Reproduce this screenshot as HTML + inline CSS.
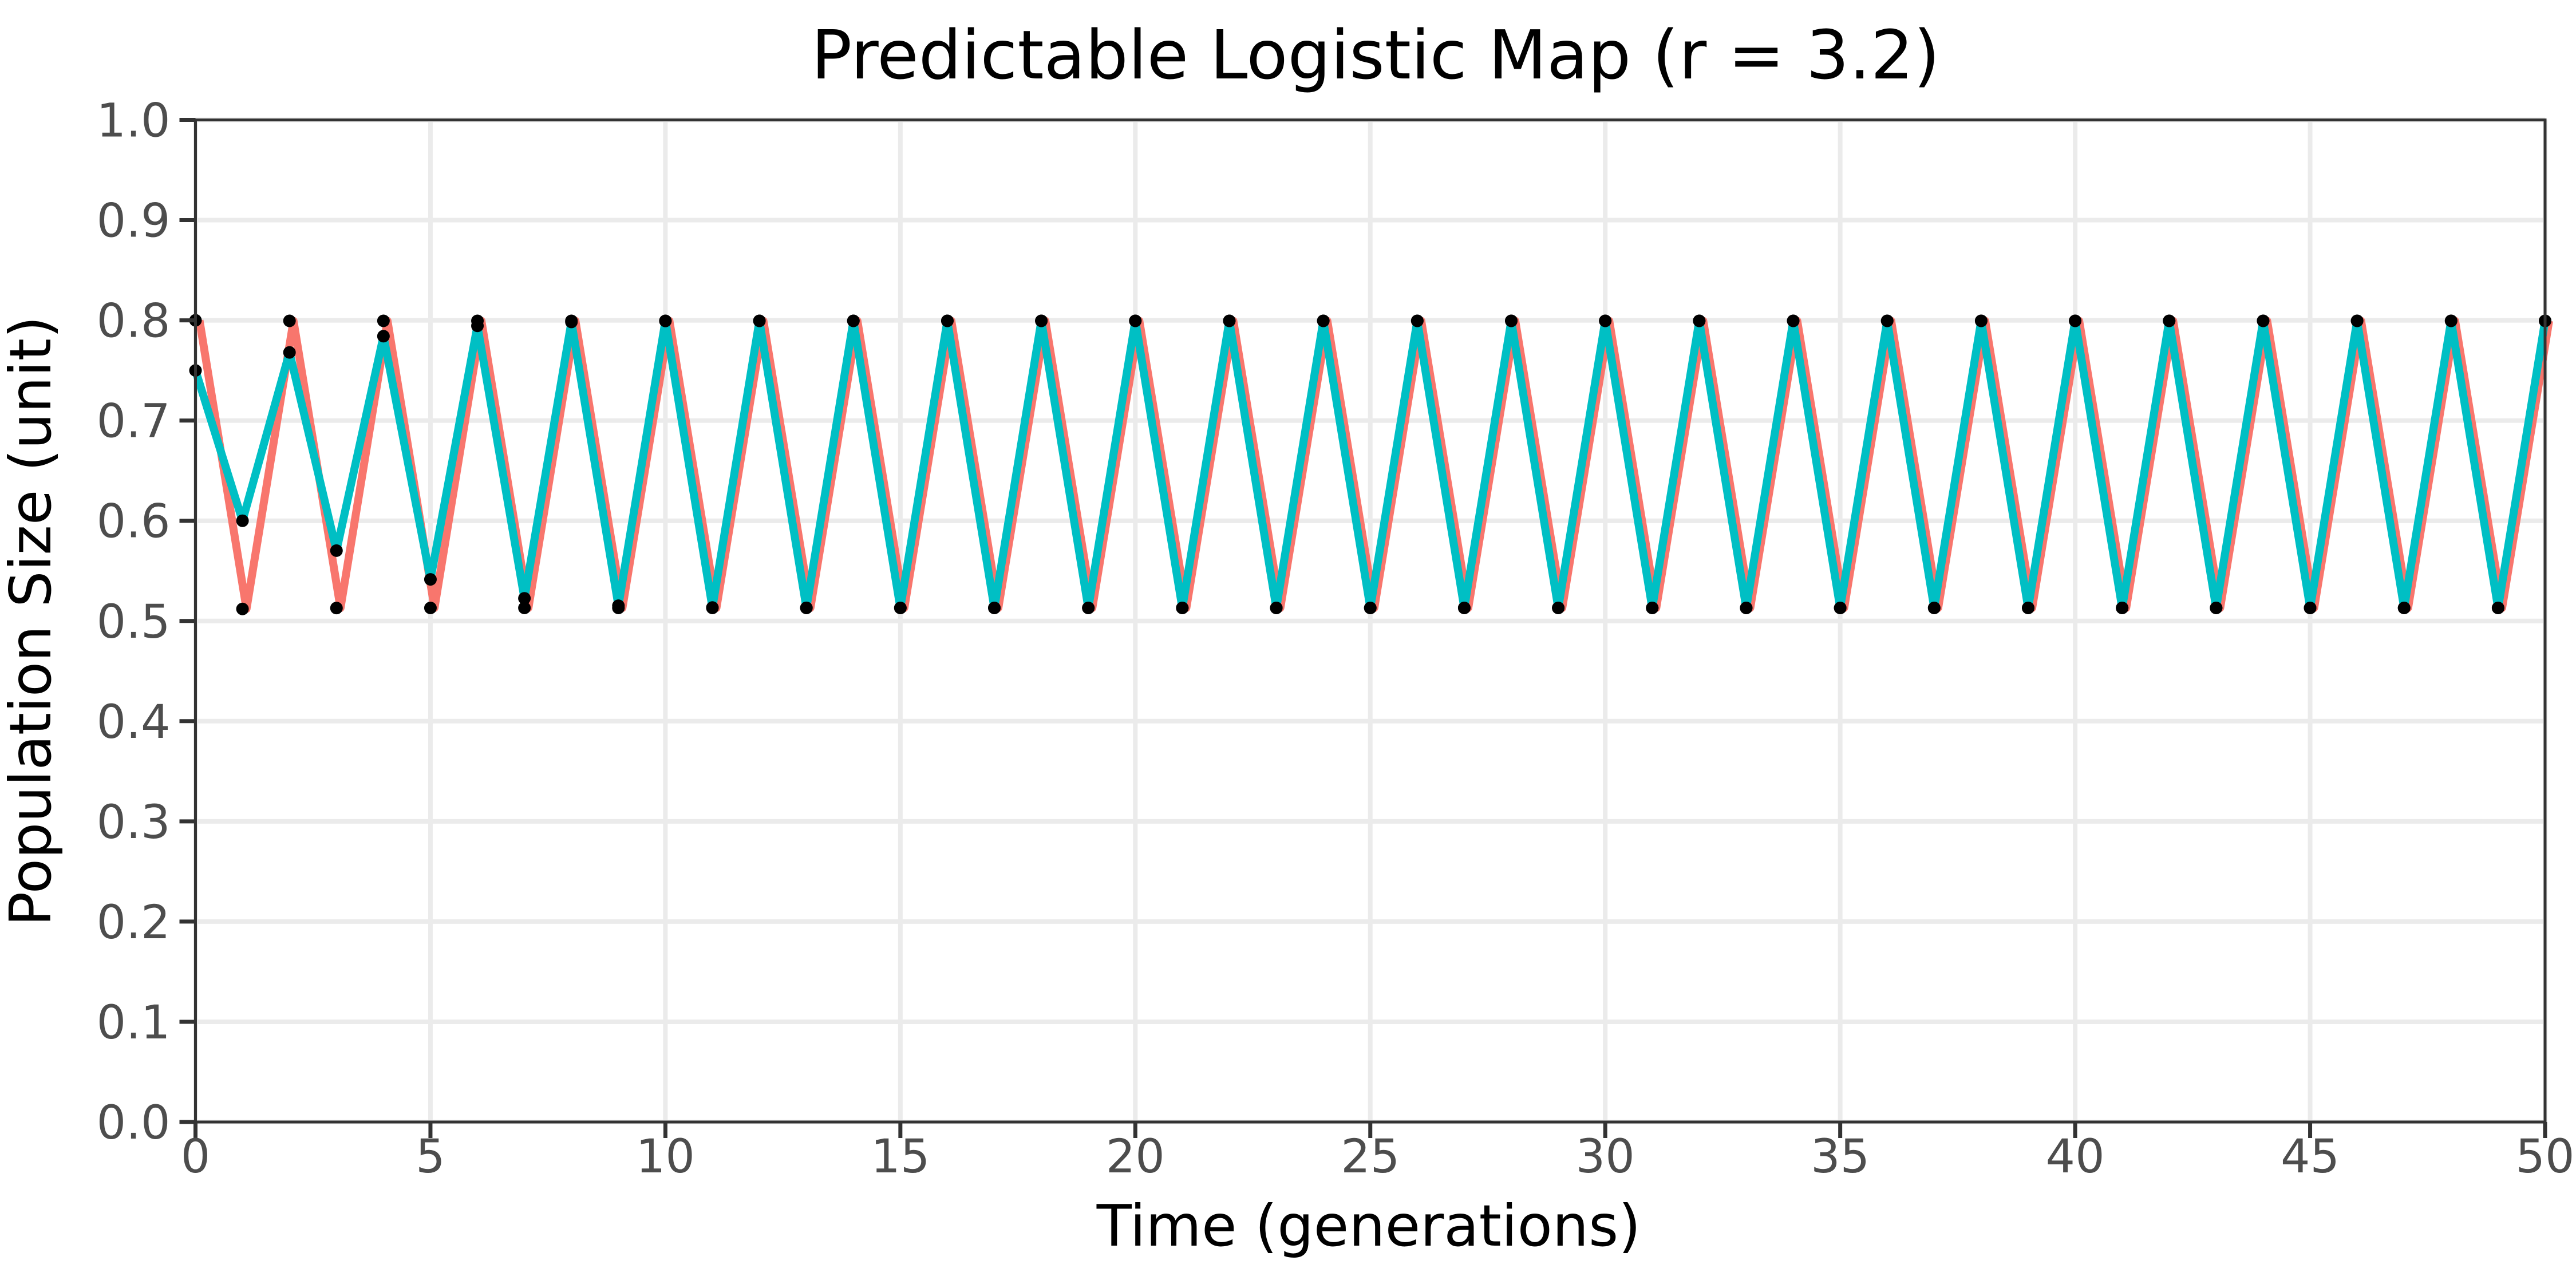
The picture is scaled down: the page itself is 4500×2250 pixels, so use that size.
<!DOCTYPE html>
<html><head><meta charset="utf-8"><style>
html,body{margin:0;padding:0;background:#fff}
svg{display:block;font-family:"DejaVu Sans","Liberation Sans",sans-serif}
</style></head><body>
<svg id="chart" width="4500" height="2250" viewBox="0 0 4500 2250" xmlns="http://www.w3.org/2000/svg">
<rect width="4500" height="2250" fill="#fff"/>
<text x="2403" y="137" font-size="118" text-anchor="middle" fill="#000">Predictable Logistic Map (r = 3.2)</text>
<g id="grid"></g>
<g id="series"></g>
<g id="axes"></g>
<text x="2391" y="2176" font-size="100" text-anchor="middle" fill="#000">Time (generations)</text>
<text x="0" y="0" font-size="100" text-anchor="middle" fill="#000" transform="translate(88,1085) rotate(-90)">Population Size (unit)</text>
</svg>
<script>
const xTicks = [0,5,10,15,20,25,30,35,40,45,50];
const yTicks = [0,0.1,0.2,0.3,0.4,0.5,0.6,0.7,0.8,0.9,1.0];
const yTickLabels = ["0.0","0.1","0.2","0.3","0.4","0.5","0.6","0.7","0.8","0.9","1.0"];
const redValues = [0.8,0.512,0.7995,0.5129,0.7995,0.513,0.7995,0.513,0.7995,0.513,0.7995,0.513,0.7995,0.513,0.7995,0.513,0.7995,0.513,0.7995,0.513,0.7995,0.513,0.7995,0.513,0.7995,0.513,0.7995,0.513,0.7995,0.513,0.7995,0.513,0.7995,0.513,0.7995,0.513,0.7995,0.513,0.7995,0.513,0.7995,0.513,0.7995,0.513,0.7995,0.513,0.7995,0.513,0.7995,0.513,0.7995];
const blueValues = [0.75,0.6,0.768,0.5702,0.7842,0.5415,0.7945,0.5226,0.7984,0.5152,0.7994,0.5134,0.7995,0.5131,0.7995,0.513,0.7995,0.513,0.7995,0.513,0.7995,0.513,0.7995,0.513,0.7995,0.513,0.7995,0.513,0.7995,0.513,0.7995,0.513,0.7995,0.513,0.7995,0.513,0.7995,0.513,0.7995,0.513,0.7995,0.513,0.7995,0.513,0.7995,0.513,0.7995,0.513,0.7995,0.513,0.7995];

const NS = "http://www.w3.org/2000/svg";
const L = 341.5, R = 4446, T = 209.5, B = 1960;
function xs(v){ return L + (v - 0) / 50 * (R - L); }
function ys(v){ return B - (v - 0) / 1 * (B - T); }
function mk(tag, attrs, parent){
  const e = document.createElementNS(NS, tag);
  for (const k in attrs) e.setAttribute(k, attrs[k]);
  parent.appendChild(e);
  return e;
}
const grid = document.getElementById('grid');
const series = document.getElementById('series');
const axes = document.getElementById('axes');

yTicks.forEach((v, i) => {
  const g = mk('line', {x1:L, x2:R, y1:ys(v), y2:ys(v), stroke:'#EBEBEB', 'stroke-width':8}, grid);
  
  
  const t = mk('line', {x1:L-28, x2:L, y1:ys(v), y2:ys(v), stroke:'#333', 'stroke-width':7}, axes);
  
  
  const lb = mk('text', {x:L-44, y:ys(v)+29, 'font-size':81, 'text-anchor':'end', fill:'#4D4D4D'}, axes);
  lb.textContent = yTickLabels[i];
  
  
});
xTicks.forEach(v => {
  const g = mk('line', {x1:xs(v), x2:xs(v), y1:T, y2:B, stroke:'#EBEBEB', 'stroke-width':8}, grid);
  
  
  const t = mk('line', {x1:xs(v), x2:xs(v), y1:B, y2:B+28, stroke:'#333', 'stroke-width':7}, axes);
  
  
  const lb = mk('text', {x:xs(v), y:2048, 'font-size':81, 'text-anchor':'middle', fill:'#4D4D4D'}, axes);
  lb.textContent = String(v);
  
  
});
const border = mk('rect', {x:L, y:T, width:R-L, height:B-T, fill:'none', stroke:'#333', 'stroke-width':5}, axes);



function drawLine(vals, color, name, dx){
  const p = vals.map((v,i) => (i?'L':'M') + xs(i).toFixed(1) + ',' + ys(v).toFixed(1)).join(' ');
  const path = mk('path', {d:p, fill:'none', stroke:color, 'stroke-width':14, 'stroke-linejoin':'round', 'stroke-linecap':'butt', transform:'translate(' + dx + ',0)'}, series);
  
  
}
function drawPoints(vals, name){
  vals.forEach((v,i) => {
    const c = mk('circle', {cx:xs(i), cy:ys(v), r:11, fill:'#000'}, series);
    
    
  });
}
drawLine(redValues, '#F8766D', 'red-series-line', 7);
drawLine(blueValues, '#00BFC4', 'teal-series-line', 0);
drawPoints(redValues, 'red-series-point');
drawPoints(blueValues, 'teal-series-point');
</script>
</body></html>
